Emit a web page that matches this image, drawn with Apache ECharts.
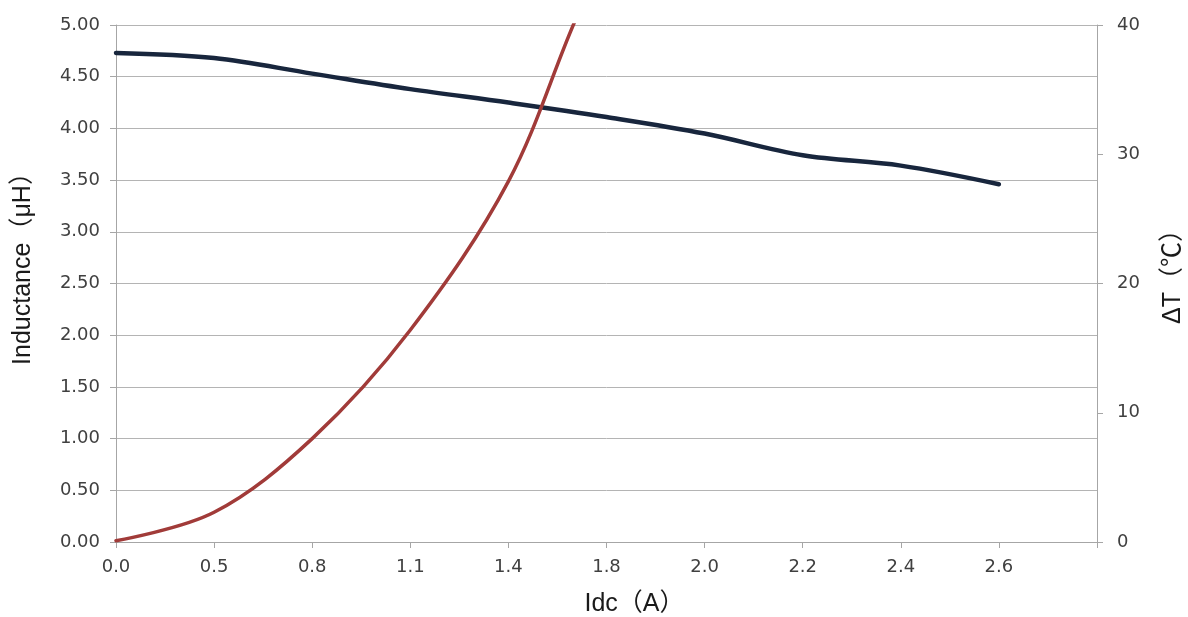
<!DOCTYPE html>
<html>
<head>
<meta charset="utf-8">
<script src="https://cdn.jsdelivr.net/npm/echarts@6/dist/echarts.min.js"></script>
<style>
html,body{margin:0;padding:0;background:#fff;}
#chart{width:1188px;height:617px;}
</style>
</head>
<body>
<div id="chart"></div>
<script>
const categories = ['0.0','0.5','0.8','1.1','1.4','1.8','2.0','2.2','2.4','2.6',''];
const inductance = [4.73, 4.68, 4.53, 4.38, 4.25, 4.11, 3.95, 3.74, 3.64, 3.46];
const deltaT = [0.1, 2.3, 8.0, 16.4, 27.9, 45, 52];
const leftTicks = {min: 0, max: 5, interval: 0.5};
const rightTicks = {min: 0, max: 40, interval: 10};

const labelFont = '"DejaVu Sans", Verdana, sans-serif';
const nameFont = '"Liberation Sans", "Noto Sans CJK SC", sans-serif';
const chart = echarts.init(document.getElementById('chart'));
chart.setOption({
  animation: false,
  backgroundColor: '#ffffff',
  grid: {left: 116, right: 91, top: 25, bottom: 75, containLabel: false, outerBoundsMode: 'none'},
  xAxis: {
    type: 'category',
    data: categories,
    boundaryGap: false,
    name: 'Idc（A）',
    nameLocation: 'middle',
    nameGap: 50,
    nameTextStyle: {fontFamily: nameFont, fontSize: 25, color: '#1a1a1a', padding: [0, 0, 0, 56]},
    axisLine: {lineStyle: {color: '#a6a6a6', width: 1}},
    axisTick: {show: true, length: 6, lineStyle: {color: '#a6a6a6'}},
    axisLabel: {fontFamily: labelFont, fontSize: 18, color: '#404040', margin: 16},
    splitLine: {show: false}
  },
  yAxis: [
    {
      type: 'value',
      min: leftTicks.min, max: leftTicks.max, interval: leftTicks.interval,
      name: 'Inductance（μH）',
      nameLocation: 'middle',
      nameGap: 80,
      nameTextStyle: {fontFamily: nameFont, fontSize: 25, color: '#1a1a1a', padding: [0, 0, 0, 42]},
      axisLine: {show: true, lineStyle: {color: '#a6a6a6', width: 1}},
      axisTick: {show: true, length: 6, lineStyle: {color: '#a6a6a6'}},
      axisLabel: {fontFamily: labelFont, fontSize: 18, color: '#404040', margin: 16,
        formatter: v => v.toFixed(2)},
      splitLine: {show: true, lineStyle: {color: '#b4b4b4', width: 1}}
    },
    {
      type: 'value',
      position: 'right',
      min: rightTicks.min, max: rightTicks.max, interval: rightTicks.interval,
      name: 'ΔT（℃）',
      nameLocation: 'middle',
      nameGap: 64,
      nameTextStyle: {fontFamily: nameFont, fontSize: 25, color: '#1a1a1a', padding: [0, 0, 0, 26]},
      axisLine: {show: true, lineStyle: {color: '#a6a6a6', width: 1}},
      axisTick: {show: true, length: 6, lineStyle: {color: '#a6a6a6'}},
      axisLabel: {fontFamily: labelFont, fontSize: 18, color: '#404040', margin: 20},
      splitLine: {show: false}
    }
  ],
  series: [
    {
      type: 'line',
      name: 'Inductance',
      data: inductance,
      yAxisIndex: 0,
      smooth: 0.35,
      showSymbol: false,
      symbol: 'none',
      lineStyle: {color: '#18263d', width: 4.5, cap: 'round'}
    },
    {
      type: 'line',
      name: 'ΔT',
      data: deltaT,
      yAxisIndex: 1,
      smooth: 0.35,
      showSymbol: false,
      symbol: 'none',
      clip: true,
      lineStyle: {color: '#a13b39', width: 3.5, cap: 'round'}
    }
  ]
});
</script>
</body>
</html>
